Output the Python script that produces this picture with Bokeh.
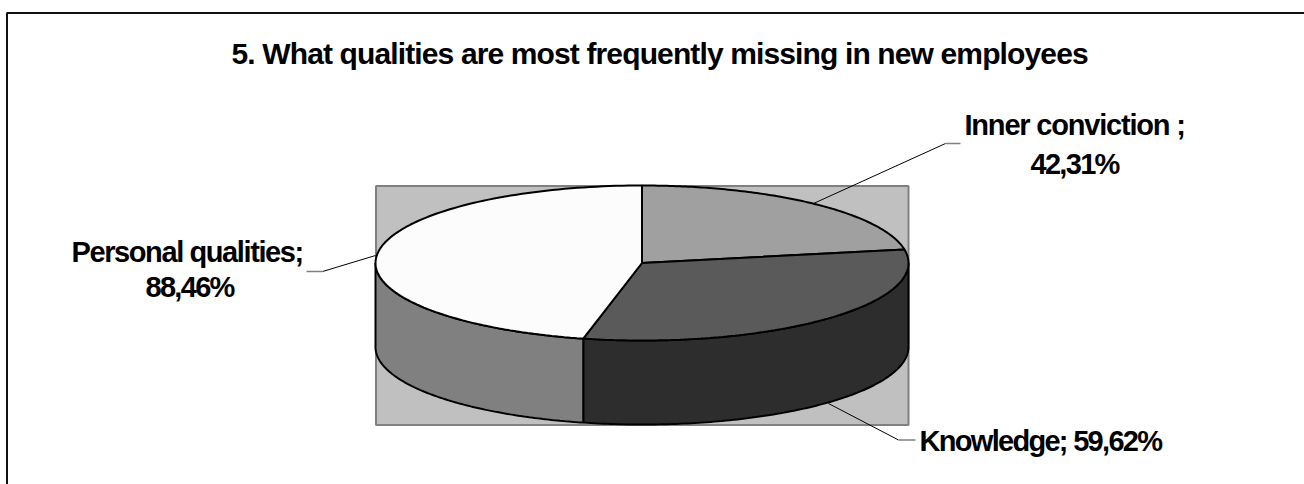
import numpy as np
from bokeh.core.properties import value
from bokeh.embed import file_html
from bokeh.models import Range1d
from bokeh.plotting import figure
from bokeh.resources import INLINE

# Survey shares, in the order the slices run clockwise from twelve o'clock
categories = ["Inner conviction", "Knowledge", "Personal qualities"]
shares = [42.31, 59.62, 88.46]
top_colors = ["#a0a0a0", "#5a5a5a", "#fcfcfc"]
side_colors = ["#6e6e6e", "#2d2d2d", "#808080"]

title_text = "5. What qualities are most frequently missing in new employees"
FONT = value("Liberation Sans")

# Pie geometry, in page pixels
CX, CY, RX, RY, DEPTH = 641.5, 262.5, 266.5, 77.5, 84

p = figure(width=1304, height=484, output_backend="svg", toolbar_location=None,
           x_range=Range1d(0, 1304), y_range=Range1d(484, 0),
           min_border=0, outline_line_color=None, background_fill_color="white",
           border_fill_color="white", x_axis_type=None, y_axis_type=None)
p.grid.visible = False

# Chart frame, open towards the right and bottom of the page
p.line([6.5, 6.5, 1304], [484, 12.5, 12.5], line_color="#111111", line_width=2)

# Plot wall behind the pie
p.quad(left=[375.5], right=[908], top=[185.5], bottom=[424.5],
       fill_color="#c0c0c0", line_color="#808080", line_width=2)


def rim(a0, a1, n=120):
    t = np.radians(np.linspace(a0, a1, n))
    return CX + RX * np.sin(t), CY - RY * np.cos(t)


edges = np.concatenate([[0], np.cumsum(shares)]) / sum(shares) * 360

# Side walls: only the front half of the rim (90 to 270 degrees) is visible
for i in range(len(shares)):
    a0, a1 = max(edges[i], 90), min(edges[i + 1], 270)
    if a1 <= a0:
        continue
    x, y = rim(a0, a1)
    p.patch(np.r_[x, x[::-1]], np.r_[y, y[::-1] + DEPTH],
            fill_color=side_colors[i], line_color="black", line_width=2)

# Top faces
for i in range(len(shares)):
    x, y = rim(edges[i], edges[i + 1])
    p.patch(np.r_[CX, x], np.r_[CY, y],
            fill_color=top_colors[i], line_color="black", line_width=2)

# Leader lines: a thin slanted part and a short grey shoulder
leaders = [
    ([813, 945], [203, 143], [945, 960], [143, 143]),
    ([375, 322], [255, 271], [322, 306], [271, 271]),
    ([828, 898], [403, 439.5], [898, 915], [439.5, 439.5]),
]
for xs, ys, xg, yg in leaders:
    p.line(xs, ys, line_color="black", line_width=1)
    p.line(xg, yg, line_color="#808080", line_width=1.5)


def label(x, y, text, size):
    p.text([x], [y], text=[text], text_font=FONT, text_font_style="bold",
           text_font_size=size, text_align="left", text_baseline="alphabetic",
           text_color="black")


label(231, 53, title_text, "30px")
label(964, 124, "Inner conviction ;", "29px")
label(1030, 163, "42,31%", "29px")
label(71, 251, "Personal qualities;", "29px")
label(145, 286, "88,46%", "29px")
label(919, 440, "Knowledge; 59,62%", "29px")

# Tighten the tracking of the bold type as soon as the SVG text exists
TRACKING = """<script>
const tracking = {"5.": "-0.87px", "In": "-1.2px", "Pe": "-1.4px"};
const walk = (root) => {
    for (const el of root.querySelectorAll("*")) {
        if (el.shadowRoot) walk(el.shadowRoot);
        if (el.tagName.toLowerCase() === "text") {
            el.style.letterSpacing = tracking[el.textContent.slice(0, 2)] || "-1.7px";
        }
    }
};
setInterval(() => walk(document), 20);
</script></body>"""

html = file_html(p, INLINE).replace("</body>", TRACKING)
open("out.html", "w").write(html)
